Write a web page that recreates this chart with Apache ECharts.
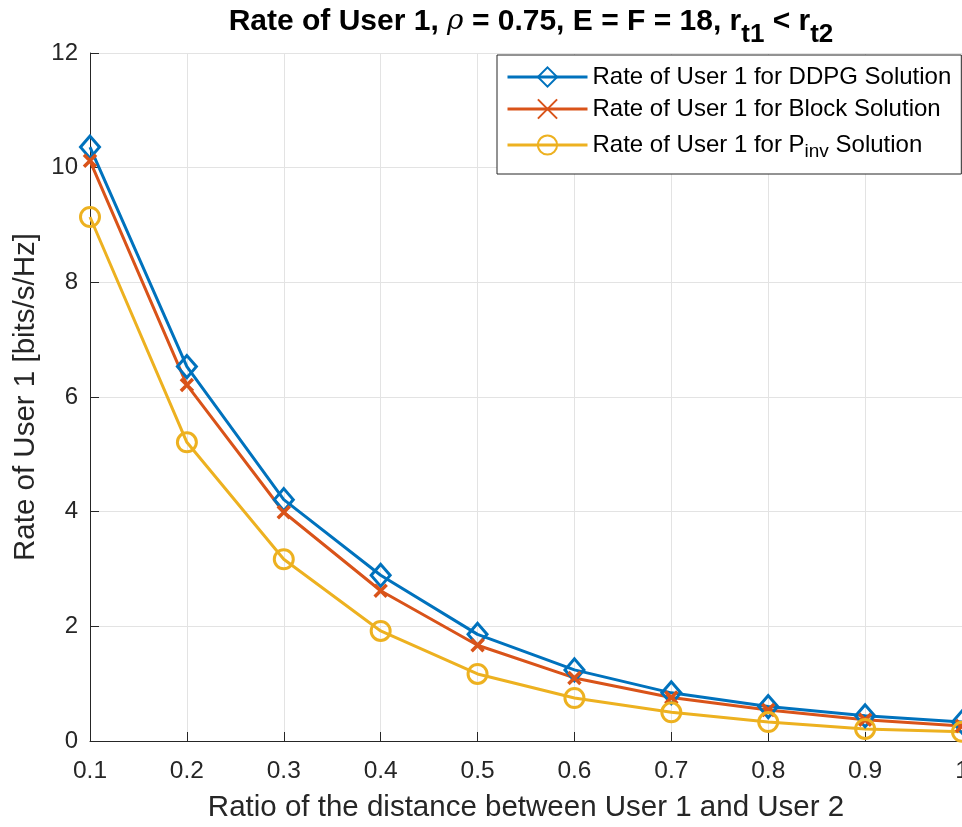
<!DOCTYPE html>
<html>
<head>
<meta charset="utf-8">
<script src="https://cdn.jsdelivr.net/npm/echarts@6/dist/echarts.min.js"></script>
<style>html,body{margin:0;padding:0;background:#fff}#c{width:962px;height:827px}</style>
</head>
<body>
<div id="c"></div>
<script>
const xValues = [0.1, 0.2, 0.3, 0.4, 0.5, 0.6, 0.7, 0.8, 0.9, 1.0];
const ddpg = [10.36, 6.53, 4.21, 2.89, 1.86, 1.24, 0.84, 0.60, 0.44, 0.33];
const block = [10.12, 6.21, 3.99, 2.62, 1.67, 1.10, 0.76, 0.54, 0.37, 0.26];
const pinv = [9.14, 5.21, 3.17, 1.92, 1.17, 0.75, 0.50, 0.33, 0.21, 0.16];
const seriesNames = ['Rate of User 1 for DDPG Solution', 'Rate of User 1 for Block Solution', 'Rate of User 1 for P_inv Solution'];

const FONT = '"Liberation Sans", Arial, Helvetica, sans-serif';
const AX = '#262626';
function pts(ys){ return xValues.map((x,i)=>[x, ys[i]]); }
const chart = echarts.init(document.getElementById('c'));
const xPath = 'path://M0,0L10,10M10,0L0,10';
chart.setOption({
  animation: false,
  backgroundColor: '#fff',
  textStyle: { fontFamily: FONT },
  title: {
    text: '{m|Rate of User 1, }{it|ρ}{m| = 0.75, E = F = 18, r}{sub|t1}{m| < r}{sub|t2}',
    left: 526, textAlign: 'center', top: 2,
    textStyle: {
      fontFamily: FONT, fontSize: 30, fontWeight: 'bold', color: '#000',
      rich: {
        m: { fontFamily: FONT, fontSize: 30, fontWeight: 'bold', color: '#000', lineHeight: 30 },
        it: { fontFamily: '"DejaVu Serif", serif', fontStyle: 'italic', fontSize: 28, fontWeight: 'normal', color: '#000', lineHeight: 30 },
        sub: { fontFamily: FONT, fontSize: 26, fontWeight: 'bold', color: '#000', lineHeight: 26, padding: [26, 0, 0, 0] }
      }
    }
  },
  grid: { left: 90, right: 0, top: 53, bottom: 86, containLabel: false, outerBoundsMode: 'none' },
  legend: {
    left: 497, top: 55, orient: 'vertical',
    backgroundColor: '#fff', borderColor: AX, borderWidth: 1,
    padding: [10, 10, 13, 9], itemGap: 8, itemWidth: 80, itemHeight: 24,
    lineStyle: { width: 3 },
    textStyle: { fontFamily: FONT, fontSize: 24, color: '#000',
      rich: {
        n: { fontFamily: FONT, fontSize: 24, color: '#000', lineHeight: 24 },
        sub: { fontFamily: FONT, fontSize: 19, color: '#000', lineHeight: 14, padding: [13, 0, 0, 0] }
      } },
    formatter: function(name){
      if (name.indexOf('P_inv') >= 0) return '{n|Rate of User 1 for P}{sub|inv}{n| Solution}';
      return '{n|' + name + '}';
    },
    data: seriesNames
  },
  xAxis: {
    type: 'value', min: 0.1, max: 1, interval: 0.1,
    name: 'Ratio of the distance between User 1 and User 2',
    nameLocation: 'middle', nameGap: 52,
    nameTextStyle: { fontFamily: FONT, fontSize: 29.5, color: AX },
    axisLine: { show: true, lineStyle: { color: AX, width: 1 } },
    axisTick: { show: true, inside: true, length: 9, lineStyle: { color: AX } },
    axisLabel: { fontFamily: FONT, fontSize: 24.5, color: AX, margin: 18,
      formatter: v => (Math.abs(v-1)<1e-9 ? '1' : v.toFixed(1)) },
    splitLine: { show: true, lineStyle: { color: '#e3e3e3', width: 1 } }
  },
  yAxis: {
    type: 'value', min: 0, max: 12, interval: 2,
    name: 'Rate of User 1 [bits/s/Hz]',
    nameLocation: 'middle', nameGap: 42,
    nameTextStyle: { fontFamily: FONT, fontSize: 29.5, color: AX },
    axisLine: { show: true, lineStyle: { color: AX, width: 1 } },
    axisTick: { show: true, inside: true, length: 9, lineStyle: { color: AX } },
    axisLabel: { fontFamily: FONT, fontSize: 24, color: AX, margin: 12 },
    splitLine: { show: true, lineStyle: { color: '#e3e3e3', width: 1 } }
  },
  series: [
    { name: seriesNames[0], type: 'line', data: pts(ddpg), symbol: 'diamond', symbolSize: [19, 22],
      showAllSymbol: true,
      lineStyle: { color: '#0072BD', width: 3 },
      itemStyle: { color: 'rgba(0,0,0,0)', borderColor: '#0072BD', borderWidth: 3 } },
    { name: seriesNames[1], type: 'line', data: pts(block), symbol: xPath, symbolSize: 12,
      showAllSymbol: true,
      lineStyle: { color: '#D95319', width: 3 },
      itemStyle: { color: 'rgba(0,0,0,0)', borderColor: '#D95319', borderWidth: 3.5 } },
    { name: seriesNames[2], type: 'line', data: pts(pinv), symbol: 'circle', symbolSize: 19,
      showAllSymbol: true,
      lineStyle: { color: '#EDB120', width: 3 },
      itemStyle: { color: 'rgba(0,0,0,0)', borderColor: '#EDB120', borderWidth: 3 } }
  ]
});
</script>
</body>
</html>
